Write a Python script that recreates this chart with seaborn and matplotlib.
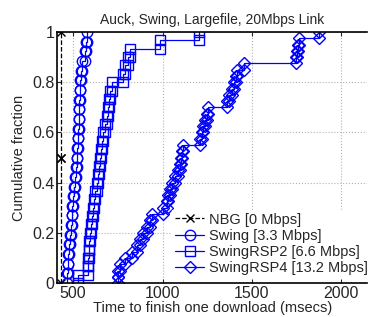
import numpy as np
import pandas as pd
import matplotlib
matplotlib.use('Agg')
import matplotlib.pyplot as plt
import seaborn as sns

# completion times (msecs), one value per download
nbg_times = [432, 432]
swing_times = [468, 470, 472, 478, 483, 488, 494, 494, 500, 505, 511, 516, 522,
               522, 527, 527, 533, 533, 533, 539, 539, 544, 550, 567, 572, 578]
rsp2_times = [527, 583, 583, 586, 589, 595, 600, 606, 611, 617, 622, 634, 640,
              645, 651, 656, 662, 667, 679, 690, 695, 700, 707, 718, 779, 790,
              807, 819, 986, 1205]
rsp4_times = [752, 752, 760, 791, 830, 858, 875, 891, 914, 930, 942, 1003, 1025,
              1031, 1042, 1053, 1070, 1087, 1098, 1105, 1110, 1115, 1210, 1221,
              1226, 1238, 1249, 1255, 1361, 1372, 1389, 1400, 1411, 1417, 1457,
              1748, 1753, 1760, 1764, 1877]

labels = ['NBG [0 Mbps]', 'Swing [3.3 Mbps]', 'SwingRSP2 [6.6 Mbps]', 'SwingRSP4 [13.2 Mbps]']
x_ticks = [500, 1000, 1500, 2000]
y_ticks = [0, 0.2, 0.4, 0.6, 0.8, 1]
y_tick_labels = ['0', '0.2', '0.4', '0.6', '0.8', '1']


def cdf_stairs(times):
    # matlab style cdfplot: vertical jump at each sample, markers on every vertex
    x = np.sort(np.asarray(times, dtype=float))
    n = len(x)
    y = np.arange(1, n + 1) / n
    xs = np.repeat(x, 2)
    ys = np.column_stack([np.r_[0, y[:-1]], y]).ravel()
    return pd.DataFrame({'t': xs, 'cdf': ys})


sns.set_style('white')
plt.rcParams['font.family'] = ['Liberation Sans', 'DejaVu Sans']
plt.rcParams['xtick.direction'] = 'in'
plt.rcParams['ytick.direction'] = 'in'

fig = plt.figure(figsize=(3.68, 3.17), dpi=100)
ax = fig.add_axes([0.155, 0.107, 0.843, 0.792])

styles = [
    dict(color='k', linestyle='--', marker='x', markersize=6, mec='k', mew=1.0),
    dict(color='b', linestyle='-', marker='o', markersize=7.5, mfc='none', mec='b', mew=1.0),
    dict(color='b', linestyle='-', marker='s', markersize=6.5, mfc='none', mec='b', mew=1.0),
    dict(color='b', linestyle='-', marker='D', markersize=6.5, mfc='none', mec='b', mew=1.0),
]
for times, lab, st in zip([nbg_times, swing_times, rsp2_times, rsp4_times], labels, styles):
    df = cdf_stairs(times)
    sns.lineplot(data=df, x='t', y='cdf', sort=False, estimator=None, ax=ax,
                 label=lab, linewidth=0.9, **st)

ax.set_xlim(410, 2145)
ax.set_ylim(0, 1)
ax.set_xticks(x_ticks)
ax.set_yticks(y_ticks)
ax.set_yticklabels(y_tick_labels)
ax.tick_params(labelsize=11.5, length=3, top=True, bottom=True, left=True, pad=2)
ax.grid(True, linestyle=':', color='0.7', linewidth=0.8)
ax.set_axisbelow(True)
for s in ['top', 'left', 'bottom']:
    ax.spines[s].set_color('k')
    ax.spines[s].set_linewidth(1.2)
ax.spines['right'].set_visible(False)

ax.set_title('Auck, Swing, Largefile, 20Mbps Link', fontsize=10, pad=6)
ax.set_xlabel('Time to finish one download (msecs)', fontsize=10.5, labelpad=0)
ax.set_ylabel('Cumulative fraction', fontsize=10.5, labelpad=4)

leg = ax.legend(loc='lower right', bbox_to_anchor=(1.01, 0.02), fontsize=10.5,
                frameon=True, fancybox=False, handlelength=2.0, handletextpad=0.3,
                borderpad=0.2, labelspacing=0.15, borderaxespad=0)
leg.get_frame().set_edgecolor('white')
leg.get_frame().set_facecolor('white')
leg.get_frame().set_alpha(1)

fig.savefig('out.png', dpi=100)
